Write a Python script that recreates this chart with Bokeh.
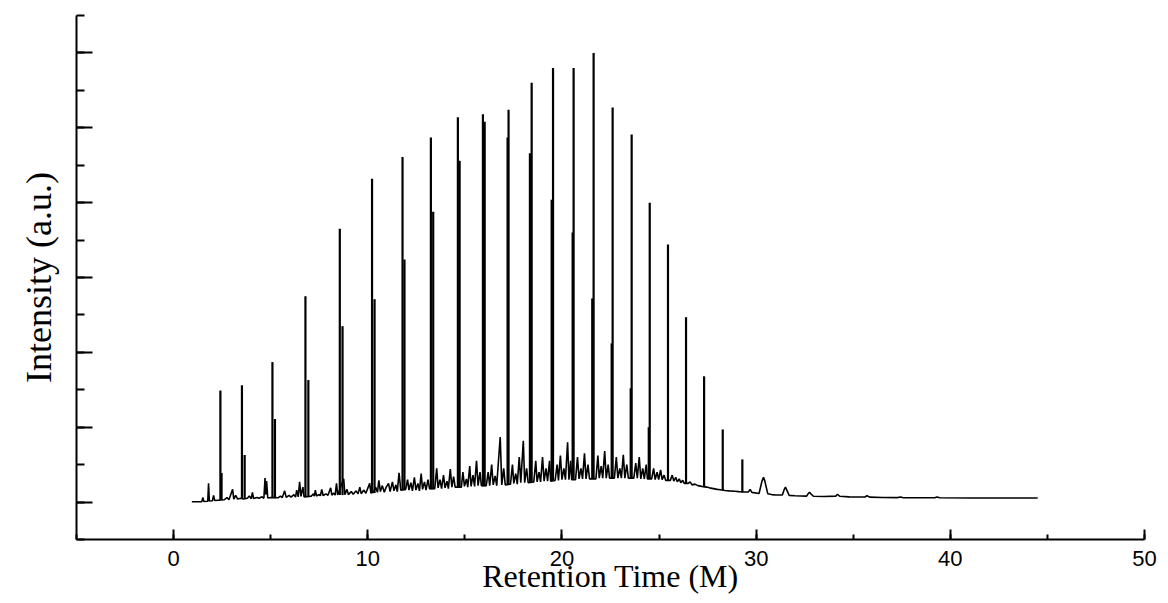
from bokeh.plotting import figure
from bokeh.models import Range1d, SingleIntervalTicker, ColumnDataSource, CustomJSTickFormatter
from bokeh.embed import file_html
from bokeh.resources import INLINE

# ---- data (time in minutes, intensity in a.u.) ----
peak_t = [2.41, 3.52, 5.09, 6.79, 8.56, 10.22, 11.79, 13.25, 14.64, 15.93, 17.25, 18.44,
          19.54, 20.60, 21.63, 22.61, 23.59, 24.52, 25.46, 26.39, 27.32, 28.28, 29.29]
peak_top = [1.49, 1.56, 1.87, 2.75, 3.65, 4.32, 4.61, 4.87, 5.14, 5.18, 5.24, 5.60,
            5.80, 5.80, 6.00, 5.27, 4.91, 4.00, 3.44, 2.47, 1.68, 0.97, 0.57]
peak_base = [0.027, 0.04, 0.053, 0.067, 0.093, 0.12, 0.16, 0.17, 0.20, 0.21, 0.24, 0.27,
             0.29, 0.31, 0.32, 0.32, 0.32, 0.31, 0.29, 0.25, 0.20, 0.16, 0.13]

sub_t = [2.47, 3.66, 5.22, 6.94, 8.70, 10.35, 11.89, 13.37, 14.73, 16.02, 17.20, 18.35,
         19.47, 20.55, 21.56, 22.56, 23.54, 24.47]
sub_top = [0.39, 0.63, 1.11, 1.63, 2.35, 2.71, 3.24, 3.88, 4.56, 5.08, 4.87, 4.66,
           4.04, 3.60, 2.72, 2.12, 1.52, 1.00]
sub_base = [0.027, 0.04, 0.053, 0.067, 0.093, 0.12, 0.16, 0.17, 0.20, 0.21, 0.24, 0.27,
            0.29, 0.31, 0.32, 0.32, 0.32, 0.31]

trace_t = [0.94, 1.45, 1.51, 1.56, 1.76, 1.80, 1.84, 2.00, 2.06, 2.12, 2.30, 2.60, 2.75, 2.85,
           3.04, 3.10, 3.20, 3.30, 3.45, 3.60, 3.80, 3.90, 4.00, 4.06, 4.12, 4.30, 4.40, 4.55,
           4.65, 4.71, 4.75, 4.79, 4.85, 5.00, 5.40, 5.50, 5.60, 5.72, 5.80, 5.95, 6.05, 6.20,
           6.28, 6.34, 6.42, 6.49, 6.56, 6.66, 6.72, 7.10, 7.20, 7.25, 7.30, 7.36, 7.50, 7.56,
           7.63, 7.70, 7.85, 7.95, 8.09, 8.15, 8.25, 8.32, 8.39, 8.45, 8.76, 8.82, 8.93, 9.00,
           9.15, 9.25, 9.40, 9.50, 9.59, 9.66, 9.80, 9.90, 10.10, 10.16,
           10.30, 10.40, 10.50, 10.57, 10.65, 10.75, 10.85, 10.95, 11.07, 11.15, 11.27, 11.35,
           11.45, 11.52, 11.61, 11.70, 11.95, 12.05, 12.12, 12.22, 12.30, 12.40, 12.48, 12.58,
           12.66, 12.75, 12.82, 12.92, 13.00, 13.10, 13.18, 13.45, 13.55, 13.62, 13.72, 13.80,
           13.90, 13.98, 14.08, 14.15, 14.25, 14.33, 14.42, 14.50, 14.82, 14.90, 14.98, 15.08,
           15.15, 15.25, 15.32, 15.42, 15.50, 15.60, 15.68, 15.78, 15.85, 16.10, 16.20, 16.28,
           16.38, 16.46, 16.56, 16.64, 16.82, 16.90, 17.00, 17.08, 17.35, 17.45, 17.52, 17.62,
           17.70, 17.80, 17.88, 18.01, 18.08, 18.18, 18.26, 18.55, 18.65, 18.72, 18.82, 18.90,
           19.00, 19.08, 19.18, 19.26, 19.36, 19.42, 19.65, 19.75, 19.82, 19.92, 20.00, 20.10,
           20.18, 20.29, 20.36, 20.45, 20.50, 20.70, 20.80, 20.88, 20.98, 21.06, 21.16, 21.24,
           21.34, 21.42, 21.75, 21.85, 21.92, 22.02, 22.10, 22.20, 22.28, 22.38, 22.45, 22.70,
           22.80, 22.88, 22.98, 23.06, 23.16, 23.24, 23.34, 23.42, 23.70, 23.80, 23.88, 23.98,
           24.06, 24.16, 24.24, 24.34, 24.40, 24.62, 24.72, 24.80, 24.90, 24.98, 25.08, 25.16,
           25.26, 25.34, 25.58, 25.68, 25.76, 25.86, 25.94, 26.04, 26.12, 26.22, 26.30, 26.50,
           26.60, 26.70, 26.85, 27.00, 27.20, 27.45, 27.60, 27.80, 28.00, 28.15, 28.40, 28.60,
           28.90, 29.10, 29.45, 29.60, 29.69, 29.78, 30.15, 30.30, 30.38, 30.45, 30.60, 30.80,
           31.00, 31.35, 31.45, 31.51, 31.58, 31.70, 32.00, 32.60, 32.70, 32.75, 32.82, 32.95,
           33.50, 34.10, 34.19, 34.30, 34.80, 35.60, 35.71, 35.85, 36.50, 37.30, 37.42, 37.55,
           38.50, 39.20, 39.31, 39.45, 41.00, 42.50, 44.50]
trace_y = [0.004, 0.005, 0.06, 0.008, 0.012, 0.25, 0.015, 0.018, 0.09, 0.02, 0.025, 0.03, 0.06, 0.032,
           0.17, 0.04, 0.09, 0.04, 0.05, 0.042, 0.05, 0.08, 0.045, 0.13, 0.048, 0.06, 0.05, 0.07,
           0.05, 0.32, 0.10, 0.28, 0.055, 0.06, 0.058, 0.08, 0.06, 0.15, 0.062, 0.09, 0.065, 0.10,
           0.066, 0.16, 0.07, 0.27, 0.075, 0.20, 0.07, 0.08, 0.11, 0.08, 0.16, 0.082, 0.10, 0.085,
           0.17, 0.088, 0.11, 0.09, 0.19, 0.092, 0.12, 0.092, 0.25, 0.095, 0.31, 0.10, 0.17, 0.10,
           0.14, 0.105, 0.15, 0.11, 0.20, 0.112, 0.16, 0.118, 0.25, 0.12,
           0.13, 0.20, 0.13, 0.29, 0.14, 0.22, 0.13, 0.20, 0.25, 0.14, 0.27, 0.15,
           0.23, 0.14, 0.39, 0.16, 0.17, 0.30, 0.16, 0.26, 0.15, 0.33, 0.16, 0.25,
           0.15, 0.38, 0.17, 0.27, 0.16, 0.30, 0.18, 0.18, 0.45, 0.19, 0.30, 0.18,
           0.36, 0.19, 0.28, 0.18, 0.44, 0.20, 0.34, 0.20, 0.20, 0.40, 0.21, 0.31,
           0.20, 0.48, 0.21, 0.36, 0.21, 0.55, 0.22, 0.40, 0.22, 0.22, 0.40, 0.22,
           0.50, 0.23, 0.35, 0.22, 0.87, 0.23, 0.45, 0.23, 0.24, 0.50, 0.25, 0.38,
           0.24, 0.60, 0.26, 0.82, 0.26, 0.45, 0.26, 0.27, 0.55, 0.27, 0.40, 0.27,
           0.60, 0.28, 0.45, 0.28, 0.55, 0.28, 0.29, 0.50, 0.29, 0.62, 0.30, 0.45,
           0.30, 0.80, 0.30, 0.55, 0.30, 0.30, 0.60, 0.31, 0.45, 0.31, 0.65, 0.31,
           0.50, 0.31, 0.31, 0.62, 0.32, 0.48, 0.32, 0.68, 0.32, 0.50, 0.32, 0.32,
           0.60, 0.32, 0.45, 0.32, 0.63, 0.32, 0.50, 0.32, 0.32, 0.52, 0.32, 0.60,
           0.31, 0.45, 0.31, 0.50, 0.31, 0.31, 0.45, 0.30, 0.40, 0.30, 0.43, 0.30,
           0.36, 0.29, 0.29, 0.36, 0.28, 0.33, 0.27, 0.31, 0.26, 0.29, 0.25, 0.25,
           0.27, 0.23, 0.24, 0.22, 0.21, 0.20, 0.19, 0.18, 0.17, 0.165, 0.155, 0.15,
           0.145, 0.14, 0.135, 0.135, 0.17, 0.13, 0.115, 0.28, 0.33, 0.28, 0.11, 0.10,
           0.095, 0.095, 0.17, 0.20, 0.16, 0.09, 0.085, 0.08, 0.12, 0.13, 0.11, 0.078,
           0.075, 0.08, 0.105, 0.078, 0.07, 0.068, 0.085, 0.066, 0.062, 0.06, 0.067, 0.06,
           0.058, 0.057, 0.067, 0.057, 0.055, 0.055, 0.055]

x_ticks_interval = 10
y_ticks_interval = 1

p = figure(width=1168, height=603,
           x_range=Range1d(-5, 50), y_range=Range1d(-0.5, 6.5),
           output_backend="svg", toolbar_location=None,
           min_border_left=76, min_border_right=24, min_border_top=15, min_border_bottom=64)

p.xgrid.visible = False
p.ygrid.visible = False
p.outline_line_color = None
p.background_fill_color = "white"
p.border_fill_color = "white"

trace_src = ColumnDataSource(dict(t=trace_t, y=trace_y))
p.line("t", "y", source=trace_src, line_color="black", line_width=1.6)

peak_src = ColumnDataSource(dict(t=peak_t, top=peak_top, base=peak_base))
p.segment(x0="t", y0="base", x1="t", y1="top", source=peak_src,
          line_color="black", line_width=2.2)
sub_src = ColumnDataSource(dict(t=sub_t, top=sub_top, base=sub_base))
p.segment(x0="t", y0="base", x1="t", y1="top", source=sub_src,
          line_color="black", line_width=2.2)

xa = p.xaxis[0]
xa.ticker = SingleIntervalTicker(interval=x_ticks_interval, num_minor_ticks=2)
xa.axis_line_width = 2
xa.axis_line_color = "black"
xa.major_tick_line_width = 2
xa.minor_tick_line_width = 2
xa.major_tick_in = 10
xa.major_tick_out = 0
xa.minor_tick_in = 5
xa.minor_tick_out = 0
xa.major_label_text_font = "Liberation Sans"
xa.major_label_text_font_size = "22px"
xa.major_label_text_color = "black"
xa.major_label_standoff = 11
xa.axis_label = "Retention Time (M)"
xa.axis_label_text_font = "Liberation Serif"
xa.axis_label_text_font_size = "32px"
xa.axis_label_text_font_style = "normal"
xa.axis_label_text_color = "black"
xa.axis_label_standoff = -11

ya = p.yaxis[0]
ya.ticker = SingleIntervalTicker(interval=y_ticks_interval, num_minor_ticks=2)
ya.formatter = CustomJSTickFormatter(code="return ''")
ya.axis_line_width = 2
ya.axis_line_color = "black"
ya.major_tick_line_width = 2
ya.minor_tick_line_width = 2
ya.major_tick_in = 16
ya.major_tick_out = 0
ya.minor_tick_in = 8
ya.minor_tick_out = 0
ya.major_label_standoff = 0
ya.axis_label = "Intensity (a.u.)"
ya.axis_label_text_font = "Liberation Serif"
ya.axis_label_text_font_size = "36px"
ya.axis_label_text_font_style = "normal"
ya.axis_label_text_color = "black"
ya.axis_label_standoff = 18

open("out.html", "w").write(file_html(p, INLINE))
